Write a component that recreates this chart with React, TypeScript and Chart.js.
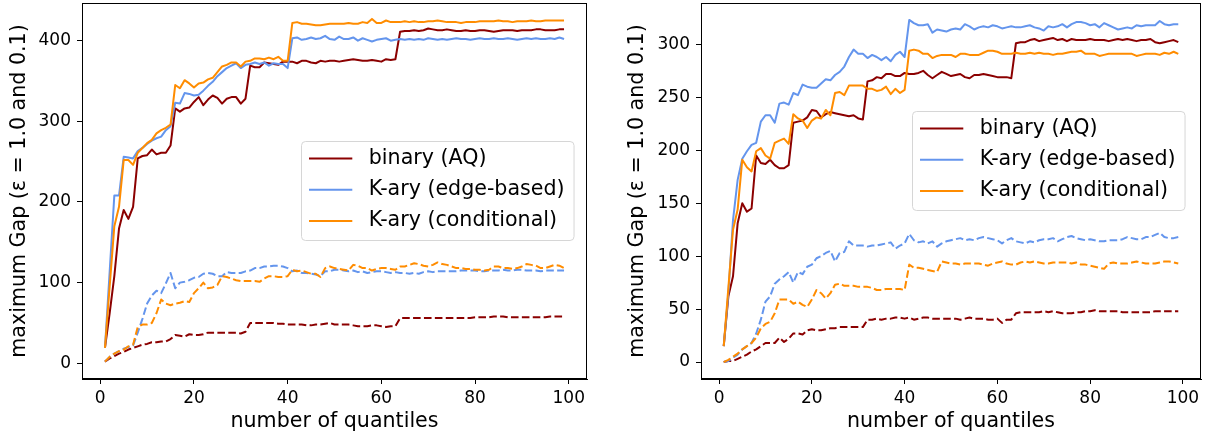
import { useEffect, useRef } from "react";
import { Chart, registerables } from "chart.js";

Chart.register(...registerables);

const FONT = "'DejaVu Sans', sans-serif";

// number of quantiles (x axis)
const quantiles = [
  1, 2, 3, 4, 5, 6, 7, 8, 9, 10, 11, 12, 13, 14, 15, 16, 17, 18, 19, 20,
  21, 22, 23, 24, 25, 26, 27, 28, 29, 30, 31, 32, 33, 34, 35, 36, 37, 38, 39, 40,
  41, 42, 43, 44, 45, 46, 47, 48, 49, 50, 51, 52, 53, 54, 55, 56, 57, 58, 59, 60,
  61, 62, 63, 64, 65, 66, 67, 68, 69, 70, 71, 72, 73, 74, 75, 76, 77, 78, 79, 80,
  81, 82, 83, 84, 85, 86, 87, 88, 89, 90, 91, 92, 93, 94, 95, 96, 97, 98, 99,
];

const methods = ["binary (AQ)", "K-ary (edge-based)", "K-ary (conditional)"];
const methodColors = ["#8b0000", "#6495ed", "#ff8c00"];

const xTicks = [0, 20, 40, 60, 80, 100];
const leftYTicks = [0, 100, 200, 300, 400];
const rightYTicks = [0, 50, 100, 150, 200, 250, 300];

// ---- left panel, epsilon = 1.0 (solid) ----
const leftBinaryEps1 = [
  19, 62, 108, 167, 190, 179, 194, 254, 257, 258, 265, 259, 261, 261, 270, 316, 312, 316, 317, 324,
  330, 320, 327, 332, 329, 322, 328, 330, 330, 322, 328, 369, 367, 367, 373, 372, 371, 370, 374, 374,
  374, 372, 375, 375, 373, 372, 375, 374, 375, 375, 374, 375, 376, 377, 376, 375, 375, 376, 375, 374,
  377, 376, 377, 411, 412, 412, 413, 412, 413, 415, 414, 413, 413, 414, 413, 412, 412, 413, 412, 412,
  413, 413, 412, 411, 412, 413, 413, 413, 412, 413, 413, 413, 414, 414, 413, 413, 413, 414, 414,
];
const leftEdgeEps1 = [
  19, 113, 208, 208, 256, 255, 254, 263, 267, 272, 276, 279, 281, 289, 294, 323, 322, 335, 334, 332,
  333, 338, 344, 349, 356, 361, 366, 369, 372, 366, 370, 371, 373, 371, 373, 369, 372, 371, 371, 366,
  403, 404, 401, 402, 404, 402, 403, 406, 402, 401, 405, 402, 402, 404, 400, 403, 401, 399, 401, 402,
  403, 400, 401, 402, 401, 402, 401, 402, 401, 403, 402, 401, 402, 401, 402, 403, 402, 402, 401, 402,
  403, 402, 402, 403, 402, 402, 403, 402, 401, 402, 403, 402, 403, 402, 402, 403, 402, 404, 402,
];
const leftCondEps1 = [
  19, 95, 170, 194, 252, 252, 246, 261, 267, 273, 277, 285, 289, 292, 296, 345, 341, 351, 347, 342,
  347, 348, 352, 354, 361, 368, 370, 373, 373, 368, 374, 375, 378, 378, 377, 379, 377, 380, 375, 375,
  422, 423, 421, 421, 420, 419, 419, 420, 421, 421, 421, 421, 422, 421, 421, 423, 422, 427, 422, 422,
  425, 423, 423, 423, 424, 423, 424, 423, 423, 424, 424, 425, 424, 423, 423, 423, 422, 423, 423, 423,
  424, 424, 424, 424, 425, 424, 424, 423, 424, 424, 424, 425, 424, 424, 425, 425, 425, 425, 425,
];

// ---- left panel, epsilon = 0.1 (dashed) ----
const leftBinaryEps01 = [
  2, 6, 9, 12, 14, 17, 19, 21, 23, 24, 26, 26, 27, 27, 30, 35, 34, 33, 36, 35,
  35, 36, 38, 38, 38, 38, 38, 38, 38, 37, 39, 50, 50, 50, 50, 50, 50, 49, 49, 48,
  48, 48, 48, 47, 47, 48, 48, 49, 50, 48, 48, 48, 48, 47, 46, 46, 46, 47, 47, 46,
  45, 46, 46, 56, 56, 56, 56, 56, 56, 56, 56, 56, 56, 56, 56, 56, 56, 56, 56, 57,
  57, 57, 57, 58, 58, 58, 57, 57, 57, 57, 57, 57, 57, 57, 57, 58, 58, 58, 58,
];
const leftEdgeEps01 = [
  2, 8, 12, 15, 18, 20, 22, 38, 55, 74, 84, 90, 87, 99, 112, 93, 100, 101, 103, 106,
  107, 111, 112, 111, 108, 108, 113, 112, 112, 112, 114, 115, 118, 118, 120, 120, 121, 121, 120, 118,
  114, 115, 112, 112, 111, 110, 108, 114, 114, 116, 116, 115, 114, 115, 113, 114, 112, 113, 114, 114,
  113, 112, 113, 112, 112, 111, 112, 111, 113, 114, 113, 114, 114, 114, 114, 114, 115, 115, 115, 115,
  114, 114, 115, 115, 115, 116, 115, 115, 116, 116, 115, 115, 115, 114, 115, 115, 115, 115, 115,
];
const leftCondEps01 = [
  2, 8, 12, 15, 17, 21, 23, 45, 48, 48, 50, 62, 79, 74, 72, 74, 75, 77, 76, 87,
  93, 100, 93, 94, 97, 108, 107, 105, 103, 102, 102, 102, 102, 101, 105, 108, 108, 107, 107, 108,
  116, 114, 115, 113, 111, 111, 107, 118, 120, 118, 117, 116, 115, 122, 121, 118, 118, 115, 117, 118,
  118, 117, 116, 120, 120, 122, 124, 123, 121, 120, 122, 125, 123, 122, 120, 118, 118, 117, 117, 116,
  116, 115, 116, 120, 120, 118, 118, 117, 118, 120, 123, 122, 121, 118, 118, 120, 122, 121, 118,
];

// ---- right panel, epsilon = 1.0 (solid) ----
const rightBinaryEps1 = [
  15, 62, 81, 131, 150, 142, 145, 195, 188, 187, 191, 186, 183, 183, 186, 226, 227, 228, 231, 238,
  237, 231, 234, 236, 235, 234, 233, 232, 233, 230, 229, 265, 266, 269, 268, 272, 272, 270, 270, 273,
  272, 272, 273, 275, 271, 268, 271, 274, 272, 270, 271, 272, 269, 268, 271, 271, 272, 271, 270, 269,
  269, 269, 268, 301, 302, 302, 304, 305, 303, 304, 305, 306, 304, 305, 303, 305, 304, 304, 304, 305,
  304, 304, 304, 303, 304, 305, 304, 305, 304, 303, 304, 304, 305, 302, 301, 302, 303, 304, 302,
];
const rightEdgeEps1 = [
  15, 65, 134, 172, 192, 199, 205, 207, 227, 233, 233, 226, 244, 245, 243, 254, 252, 262, 260, 259,
  259, 263, 267, 266, 271, 274, 279, 288, 295, 291, 291, 287, 290, 288, 285, 288, 284, 290, 293, 288,
  323, 320, 318, 318, 319, 311, 314, 313, 312, 314, 315, 314, 319, 317, 314, 316, 317, 316, 318, 317,
  315, 316, 317, 316, 316, 317, 318, 316, 315, 313, 317, 316, 317, 319, 316, 319, 321, 321, 320, 318,
  319, 316, 320, 318, 316, 314, 315, 316, 315, 318, 317, 318, 318, 318, 322, 319, 318, 319, 319,
];
const rightCondEps1 = [
  15, 70, 125, 144, 191, 184, 180, 199, 202, 195, 192, 207, 209, 211, 206, 234, 230, 228, 221, 228,
  231, 230, 238, 233, 254, 255, 252, 261, 261, 261, 261, 258, 258, 256, 257, 260, 253, 258, 254, 257,
  294, 295, 294, 291, 291, 287, 289, 290, 290, 290, 288, 291, 291, 290, 290, 290, 292, 294, 294, 293,
  291, 291, 291, 292, 291, 291, 292, 291, 292, 291, 291, 290, 291, 291, 292, 293, 293, 294, 291, 291,
  291, 289, 290, 291, 291, 291, 291, 291, 291, 289, 290, 291, 291, 291, 290, 292, 291, 293, 291,
];

// ---- right panel, epsilon = 0.1 (dashed) ----
const rightBinaryEps01 = [
  0, 1, 1, 3, 5, 7, 10, 12, 15, 18, 18, 18, 23, 19, 22, 27, 27, 26, 30, 31,
  30, 30, 31, 32, 32, 33, 33, 33, 33, 33, 33, 40, 40, 41, 40, 41, 41, 42, 42, 41,
  42, 40, 41, 42, 42, 41, 41, 41, 41, 41, 41, 40, 41, 42, 41, 41, 41, 40, 40, 41,
  37, 40, 40, 46, 47, 47, 47, 47, 47, 48, 47, 48, 47, 46, 46, 46, 47, 47, 48, 48,
  49, 48, 48, 48, 48, 48, 47, 47, 47, 47, 47, 47, 47, 48, 48, 48, 48, 48, 48,
];
const rightEdgeEps01 = [
  0, 1, 4, 7, 12, 15, 18, 27, 40, 57, 62, 74, 78, 81, 85, 75, 85, 83, 90, 92,
  98, 100, 103, 105, 95, 103, 104, 114, 110, 110, 110, 109, 110, 110, 111, 112, 113, 107, 110, 112,
  121, 115, 113, 114, 112, 114, 109, 112, 114, 115, 116, 117, 115, 116, 115, 117, 118, 117, 116, 115,
  112, 115, 117, 114, 113, 112, 114, 113, 115, 116, 116, 117, 114, 116, 118, 119, 117, 116, 115, 116,
  115, 114, 114, 115, 115, 115, 116, 118, 117, 116, 116, 118, 118, 120, 122, 118, 117, 117, 118,
];
const rightCondEps01 = [
  0, 2, 5, 8, 12, 15, 18, 23, 32, 36, 38, 46, 59, 59, 59, 55, 57, 54, 52, 59,
  68, 65, 60, 65, 73, 74, 72, 72, 72, 71, 71, 71, 70, 68, 68, 69, 69, 69, 69, 68,
  92, 89, 89, 88, 87, 86, 85, 95, 94, 93, 93, 92, 93, 93, 93, 93, 92, 91, 93, 94,
  95, 93, 92, 92, 94, 95, 94, 95, 94, 93, 93, 94, 94, 94, 94, 93, 94, 92, 92, 91,
  90, 89, 88, 93, 94, 93, 93, 93, 94, 95, 94, 93, 93, 93, 94, 95, 95, 94, 93,
];

const DASH = [7.6, 3.3];

// Legend box drawn inside the plot area, anchored by axis fractions.
const legendBox = {
  id: "legendBox",
  afterDatasetsDraw(chart: any, _args: any, opts: any) {
    const { ctx, chartArea: a } = chart;
    const x0 = Math.round(a.left + opts.fx * (a.right - a.left)) + 0.5;
    const y0 = Math.round(a.top + opts.fy * (a.bottom - a.top)) + 0.5;
    ctx.save();
    ctx.font = `20.6px ${FONT}`;
    const textW = Math.max(...methods.map((m) => ctx.measureText(m).width));
    const w = 67.3 + textW + 9.5;
    const h = 99;
    const r = 4;
    ctx.beginPath();
    ctx.moveTo(x0 + r, y0);
    ctx.arcTo(x0 + w, y0, x0 + w, y0 + h, r);
    ctx.arcTo(x0 + w, y0 + h, x0, y0 + h, r);
    ctx.arcTo(x0, y0 + h, x0, y0, r);
    ctx.arcTo(x0, y0, x0 + w, y0, r);
    ctx.closePath();
    ctx.fillStyle = "rgba(255,255,255,0.8)";
    ctx.fill();
    ctx.strokeStyle = "#d6d6d6";
    ctx.lineWidth = 1;
    ctx.stroke();
    methods.forEach((m, i) => {
      const cy = y0 + 17 + i * 31.2;
      ctx.beginPath();
      ctx.moveTo(x0 + 7.5, cy);
      ctx.lineTo(x0 + 50.8, cy);
      ctx.strokeStyle = methodColors[i];
      ctx.lineWidth = 2;
      ctx.stroke();
      ctx.fillStyle = "#000";
      ctx.textBaseline = "middle";
      ctx.textAlign = "left";
      ctx.fillText(m, x0 + 67.3, cy);
    });
    ctx.restore();
  },
};

// Full box around the plot area (all four spines).
const frame = {
  id: "frame",
  afterDraw(chart: any) {
    const { ctx, chartArea: a } = chart;
    ctx.save();
    ctx.strokeStyle = "#000";
    ctx.lineWidth = 1;
    ctx.strokeRect(
      Math.round(a.left) + 0.5,
      Math.round(a.top) + 0.5,
      Math.round(a.right) - Math.round(a.left) - 1,
      Math.round(a.bottom) - Math.round(a.top) - 1
    );
    ctx.restore();
  },
};

type Panel = {
  solid: number[][];
  dashed: number[][];
  yMin: number;
  yMax: number;
  yTicks: number[];
  axisWidth: number;
  rightPad: number;
  legendFx: number;
  legendFy: number;
};

function buildConfig(p: Panel): any {
  const datasets: any[] = [];
  p.solid.forEach((vals, i) => {
    datasets.push({
      label: methods[i] + " (ε = 1.0)",
      data: quantiles.map((q, j) => ({ x: q, y: vals[j] })),
      borderColor: methodColors[i],
      borderWidth: 2,
      borderJoinStyle: "round",
      pointRadius: 0,
      order: 3 - i,
    });
  });
  p.dashed.forEach((vals, i) => {
    datasets.push({
      label: methods[i] + " (ε = 0.1)",
      data: quantiles.map((q, j) => ({ x: q, y: vals[j] })),
      borderColor: methodColors[i],
      borderWidth: 2,
      borderDash: DASH,
      borderJoinStyle: "round",
      pointRadius: 0,
      order: 6 - i,
    });
  });

  const tickFont = { family: FONT, size: 17 };
  const labelFont = { family: FONT, size: 20.6 };

  return {
    type: "line",
    data: { datasets },
    plugins: [legendBox, frame],
    options: {
      animation: false,
      responsive: false,
      maintainAspectRatio: false,
      layout: { padding: { top: 3, right: p.rightPad, left: 0, bottom: 0 } },
      plugins: {
        legend: { display: false },
        tooltip: { enabled: false },
        legendBox: { fx: p.legendFx, fy: p.legendFy },
      },
      elements: { line: { tension: 0 }, point: { radius: 0 } },
      scales: {
        x: {
          type: "linear",
          min: -3.9,
          max: 103.9,
          afterBuildTicks: (s: any) => {
            s.ticks = xTicks.map((v) => ({ value: v }));
          },
          afterFit: (s: any) => {
            s.height = 55;
            s.paddingLeft = 0;
            s.paddingRight = 0;
          },
          grid: { drawOnChartArea: false, drawTicks: true, tickLength: 5, color: "#000" },
          border: { display: true, color: "#000", width: 1 },
          ticks: { font: tickFont, color: "#000", padding: 4.5, maxRotation: 0, autoSkip: false },
          title: {
            display: true,
            text: "number of quantiles",
            font: labelFont,
            color: "#000",
            padding: { top: 0, bottom: 0 },
          },
        },
        y: {
          type: "linear",
          min: p.yMin,
          max: p.yMax,
          afterBuildTicks: (s: any) => {
            s.ticks = p.yTicks.map((v) => ({ value: v }));
          },
          afterFit: (s: any) => {
            s.width = p.axisWidth;
            s.paddingTop = 0;
            s.paddingBottom = 0;
          },
          grid: { drawOnChartArea: false, drawTicks: true, tickLength: 5, color: "#000" },
          border: { display: true, color: "#000", width: 1 },
          ticks: { font: tickFont, color: "#000", padding: 6, autoSkip: false },
          title: {
            display: true,
            text: "maximum Gap (ε = 1.0 and 0.1)",
            font: labelFont,
            color: "#000",
            padding: { top: 7.5, bottom: 0 },
          },
        },
      },
    },
  };
}

const leftPanel: Panel = {
  solid: [leftBinaryEps1, leftEdgeEps1, leftCondEps1],
  dashed: [leftBinaryEps01, leftEdgeEps01, leftCondEps01],
  yMin: -19.5,
  yMax: 446.7,
  yTicks: leftYTicks,
  axisWidth: 82,
  rightPad: 13,
  legendFx: 0.4345,
  legendFy: 0.3665,
};

const rightPanel: Panel = {
  solid: [rightBinaryEps1, rightEdgeEps1, rightCondEps1],
  dashed: [rightBinaryEps01, rightEdgeEps01, rightCondEps01],
  yMin: -16,
  yMax: 339,
  yTicks: rightYTicks,
  axisWidth: 83,
  rightPad: 4,
  legendFx: 0.4217,
  legendFy: 0.2885,
};

function PanelChart({ panel, left, width }: { panel: Panel; left: number; width: number }) {
  const ref = useRef<HTMLCanvasElement | null>(null);
  useEffect(() => {
    if (!ref.current) return;
    const chart = new Chart(ref.current, buildConfig(panel));
    return () => chart.destroy();
  }, [panel]);
  return (
    <canvas
      ref={ref}
      width={width}
      height={434}
      style={{ position: "absolute", left, top: 0, width, height: 434 }}
    />
  );
}

export default function App() {
  return (
    <div
      style={{
        position: "absolute",
        left: 0,
        top: 0,
        width: 1205,
        height: 434,
        background: "#fff",
        overflow: "hidden",
      }}
    >
      <PanelChart panel={leftPanel} left={0} width={600} />
      <PanelChart panel={rightPanel} left={618} width={587} />
    </div>
  );
}
